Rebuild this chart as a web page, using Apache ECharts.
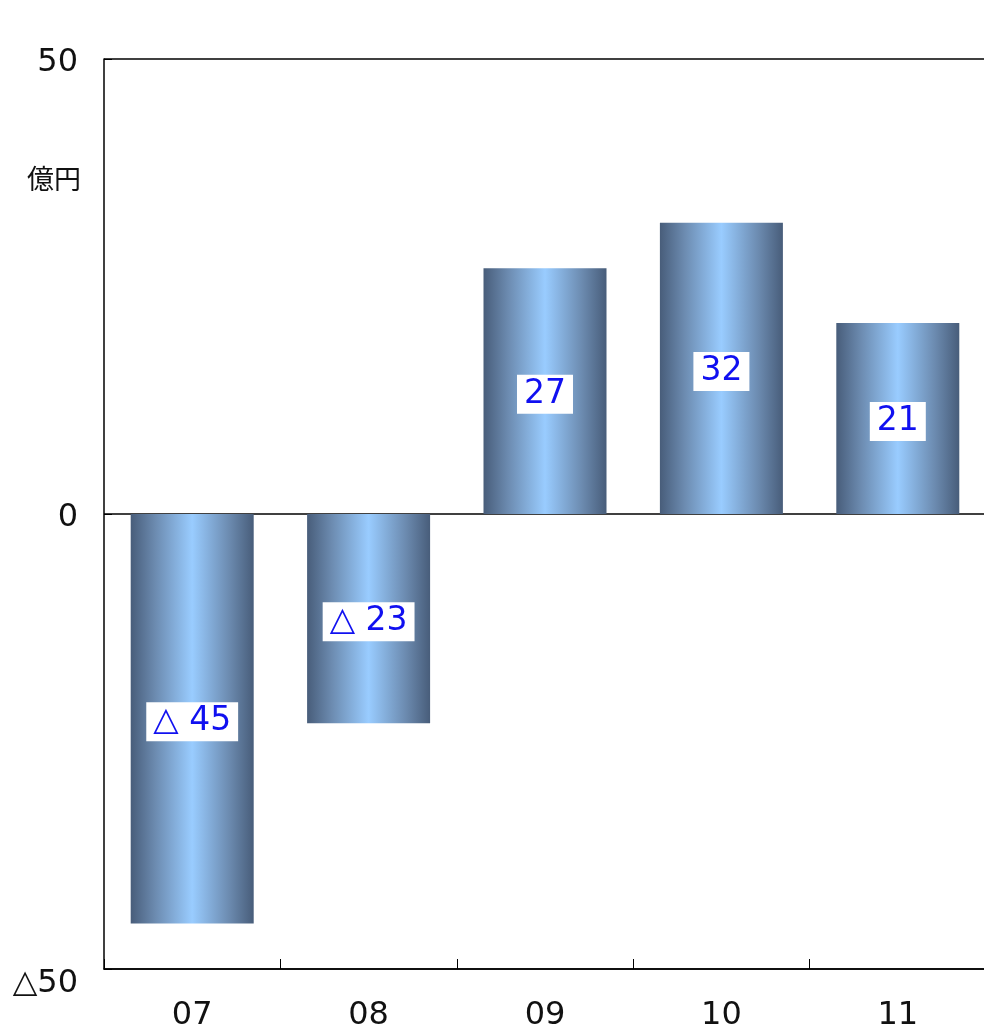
<!DOCTYPE html>
<html><head><meta charset="utf-8">
<script src="https://cdn.jsdelivr.net/npm/echarts@6/dist/echarts.min.js"></script>
<style>html,body{margin:0;padding:0;background:#fff}#c{width:984px;height:1026px}</style>
</head><body><div id="c"></div>
<script>
const categories = ['07', '08', '09', '10', '11'];
const values = [-45, -23, 27, 32, 21];
const yTicks = { min: -50, max: 50, interval: 50 };
const unitLabel = '億円';
const FONT = '"DejaVu Sans", "Noto Sans CJK JP", sans-serif';
const CJK = '"Noto Sans CJK JP", sans-serif';

const fmt = v => v < 0 ? '{neg|△' + Math.abs(v) + '}' : '{pos|' + v + '}';
const fmtLabel = v => v < 0 ? '△ ' + Math.abs(v) : String(v);

const chart = echarts.init(document.getElementById('c'), null, { renderer: 'canvas' });
chart.setOption({
  backgroundColor: '#fff',
  animation: false,
  grid: { left: 104, right: -2, top: 59, bottom: 57, containLabel: false, outerBoundsMode: 'none' },
  graphic: [{
    type: 'text', left: 27, top: 165,
    style: { text: unitLabel, font: '27px ' + CJK, fill: '#111' }
  }],
  xAxis: {
    type: 'category', data: categories,
    position: 'bottom',
    axisLine: { onZero: false, lineStyle: { color: '#000', width: 1.5 } },
    axisTick: { show: true, inside: true, length: 10, lineStyle: { color: '#000', width: 1 } },
    axisLabel: { fontSize: 32, fontFamily: FONT, color: '#111', margin: 31 },
    splitLine: { show: false }
  },
  yAxis: {
    type: 'value', min: yTicks.min, max: yTicks.max, interval: yTicks.interval,
    axisLine: { show: true, lineStyle: { color: '#000', width: 1.5 } },
    axisTick: { show: true, inside: true, length: 8, lineStyle: { color: '#000' } },
    axisLabel: {
      fontSize: 32, fontFamily: FONT, color: '#111', margin: 26, formatter: fmt,
      rich: {
        pos: { fontSize: 32, fontFamily: FONT, color: '#111', padding: [8, 0, 0, 0] },
        neg: { fontSize: 32, fontFamily: FONT, color: '#111', padding: [30, 0, 0, 0] }
      }
    },
    splitLine: { show: true, lineStyle: { color: '#000', width: 1.5 } }
  },
  series: [{
    type: 'bar', data: values, barWidth: 123,
    itemStyle: {
      color: new echarts.graphic.LinearGradient(0, 0, 1, 0, [
        { offset: 0, color: '#485d7a' },
        { offset: 0.2, color: '#6c8bb0' },
        { offset: 0.5, color: '#99ccff' },
        { offset: 0.8, color: '#6c8bb0' },
        { offset: 1, color: '#485d7a' }
      ])
    },
    label: {
      show: true, position: 'inside', offset: [0, 3],
      formatter: p => fmtLabel(p.value),
      fontSize: 33, fontFamily: FONT, color: '#1010f0', lineHeight: 34,
      backgroundColor: '#fff', padding: [3, 7, 2, 7]
    }
  }]
});
</script></body></html>
